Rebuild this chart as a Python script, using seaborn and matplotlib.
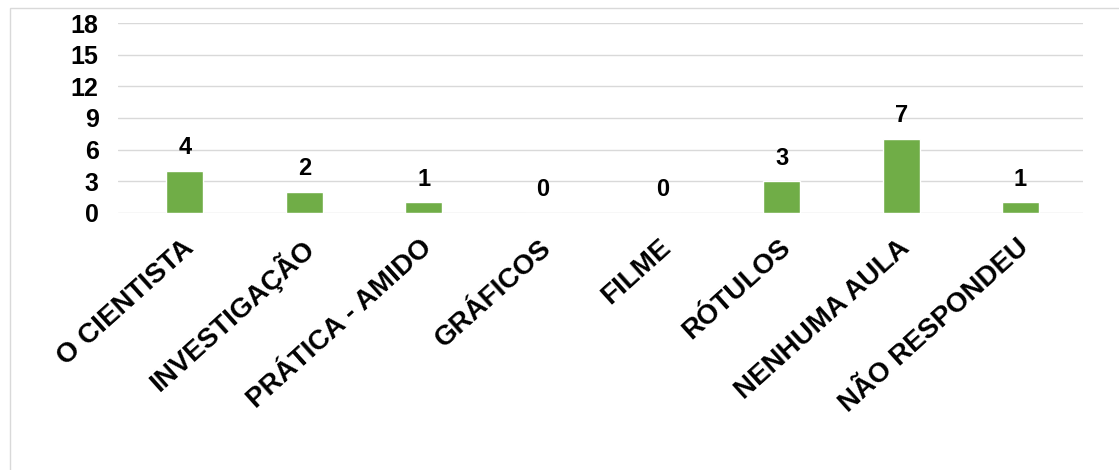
import matplotlib.pyplot as plt
import seaborn as sns
from matplotlib.patches import Rectangle
from matplotlib.transforms import ScaledTranslation

categorias = ["O CIENTISTA", "INVESTIGAÇÃO", "PRÁTICA - AMIDO", "GRÁFICOS",
              "FILME", "RÓTULOS", "NENHUMA AULA", "NÃO RESPONDEU"]
respostas = [4, 2, 1, 0, 0, 3, 7, 1]
yticks = [0, 3, 6, 9, 12, 15, 18]

sns.set_style("white")
plt.rcParams['font.family'] = ['Liberation Sans', 'DejaVu Sans']

fig = plt.figure(figsize=(11.19, 4.70), dpi=100)
ax = fig.add_axes([0.1055, 0.547, 0.862, 0.404])

sns.barplot(x=categorias, y=respostas, color="#70ad47", width=0.31,
            saturation=1, ax=ax, zorder=3)

ax.set_ylim(0, 18)
ax.set_yticks(yticks)
ax.set_xlim(-0.56, 7.52)
ax.grid(axis="y", color="#d9d9d9", linewidth=1, zorder=0)
ax.set_axisbelow(True)
sns.despine(ax=ax, left=True, bottom=True, top=True, right=True)
ax.tick_params(axis="both", length=0, labelcolor="black")
ax.tick_params(axis="y", pad=14, labelsize=18)
ax.tick_params(axis="x", pad=14, labelsize=20)
for lbl in ax.get_yticklabels():
    lbl.set_fontweight("bold")
shift = ScaledTranslation(5 / 100, -12 / 100, fig.dpi_scale_trans)
for lbl in ax.get_xticklabels():
    lbl.set_fontweight("bold")
    lbl.set_rotation(42)
    lbl.set_ha("right")
    lbl.set_va("center")
    lbl.set_rotation_mode("anchor")
    lbl.set_transform(lbl.get_transform() + shift)

for i, v in enumerate(respostas):
    ax.annotate(str(v), (i, v), xytext=(0, 12), textcoords="offset points",
                ha="center", va="baseline", fontsize=17, fontweight="bold",
                color="black")

# moldura do gráfico
fig.patches.append(Rectangle((10 / 1119, -0.05), 1.1, 0.05 + (1 - 8 / 470),
                             transform=fig.transFigure, fill=False,
                             edgecolor="#d9d9d9", linewidth=1))

fig.savefig("out.png", dpi=100)
